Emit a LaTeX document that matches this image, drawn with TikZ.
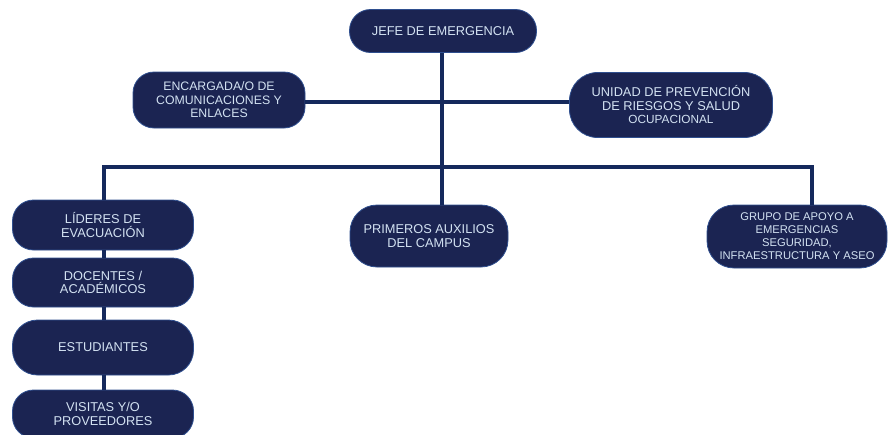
\documentclass[tikz,border=0pt]{standalone}
\usepackage{fontspec}
\setmainfont{Liberation Sans}
\usetikzlibrary{positioning}
\definecolor{azulcaja}{HTML}{1B2452}
\definecolor{azulborde}{HTML}{2F4F8F}
\definecolor{azullinea}{HTML}{15295C}
\definecolor{textocaja}{HTML}{D3E2F2}
\begin{document}
\begin{tikzpicture}[x=1pt,y=-1pt,
  caja/.style={rectangle,rounded corners=21pt,fill=azulcaja,draw=azulborde,line width=0.8pt,
    text=textocaja,align=center,inner sep=2pt,font=\fontsize{12.8}{13.5}\selectfont},
  linea/.style={draw=azullinea,line width=4pt}]
\useasboundingbox (0,0) rectangle (891,434);

\node[caja,minimum width=187pt,minimum height=43pt] (jefe) at (443,31) {JEFE DE EMERGENCIA};
\node[caja,minimum width=172pt,minimum height=56pt,font=\fontsize{12.3}{13.5}\selectfont] (enc) at (219,100)
  {ENCARGADA/O DE\\COMUNICACIONES Y\\ENLACES};
\node[caja,minimum width=203pt,minimum height=65pt,rounded corners=28pt] (unid) at (671,105)
  {UNIDAD DE PREVENCIÓN\\DE RIESGOS Y SALUD\\{\fontsize{11.8}{13}\selectfont OCUPACIONAL}};

\node[caja,minimum width=181pt,minimum height=50pt] (lid) at (103,225) {LÍDERES DE\\EVACUACIÓN};
\node[caja,minimum width=181pt,minimum height=49pt] (doc) at (103,282.5) {DOCENTES /\\ACADÉMICOS};
\node[caja,minimum width=181pt,minimum height=55pt,rounded corners=25pt] (est) at (103,347.5) {ESTUDIANTES};
\node[caja,minimum width=181pt,minimum height=48pt] (vis) at (103,414) {VISITAS Y/O\\PROVEEDORES};

\node[caja,minimum width=158pt,minimum height=62pt,rounded corners=27pt] (prim) at (429,236)
  {PRIMEROS AUXILIOS\\DEL CAMPUS};
\node[caja,minimum width=180pt,minimum height=63pt,rounded corners=27pt,font=\fontsize{11.2}{13}\selectfont] (grupo) at (797,236.5)
  {GRUPO DE APOYO A\\EMERGENCIAS\\SEGURIDAD,\\INFRAESTRUCTURA Y ASEO};

\coordinate (ramaA) at (442,102);
\coordinate (ramaB) at (442,167);
\coordinate (ramaIzq) at (104,167);
\coordinate (ramaDer) at (812,167);

\draw[linea] (jefe.south -| ramaA) -- (ramaB);
\draw[linea] (enc.east |- ramaA) -- (unid.west |- ramaA);
\draw[linea] (lid.north -| ramaIzq) -- (ramaIzq) -- (ramaDer) -- (ramaDer |- grupo.north);
\draw[linea] (ramaB) -- (ramaB |- prim.north);
\draw[linea] (lid.south -| ramaIzq) -- (doc.north -| ramaIzq);
\draw[linea] (doc.south -| ramaIzq) -- (est.north -| ramaIzq);
\draw[linea] (est.south -| ramaIzq) -- (vis.north -| ramaIzq);

\end{tikzpicture}
\end{document}
